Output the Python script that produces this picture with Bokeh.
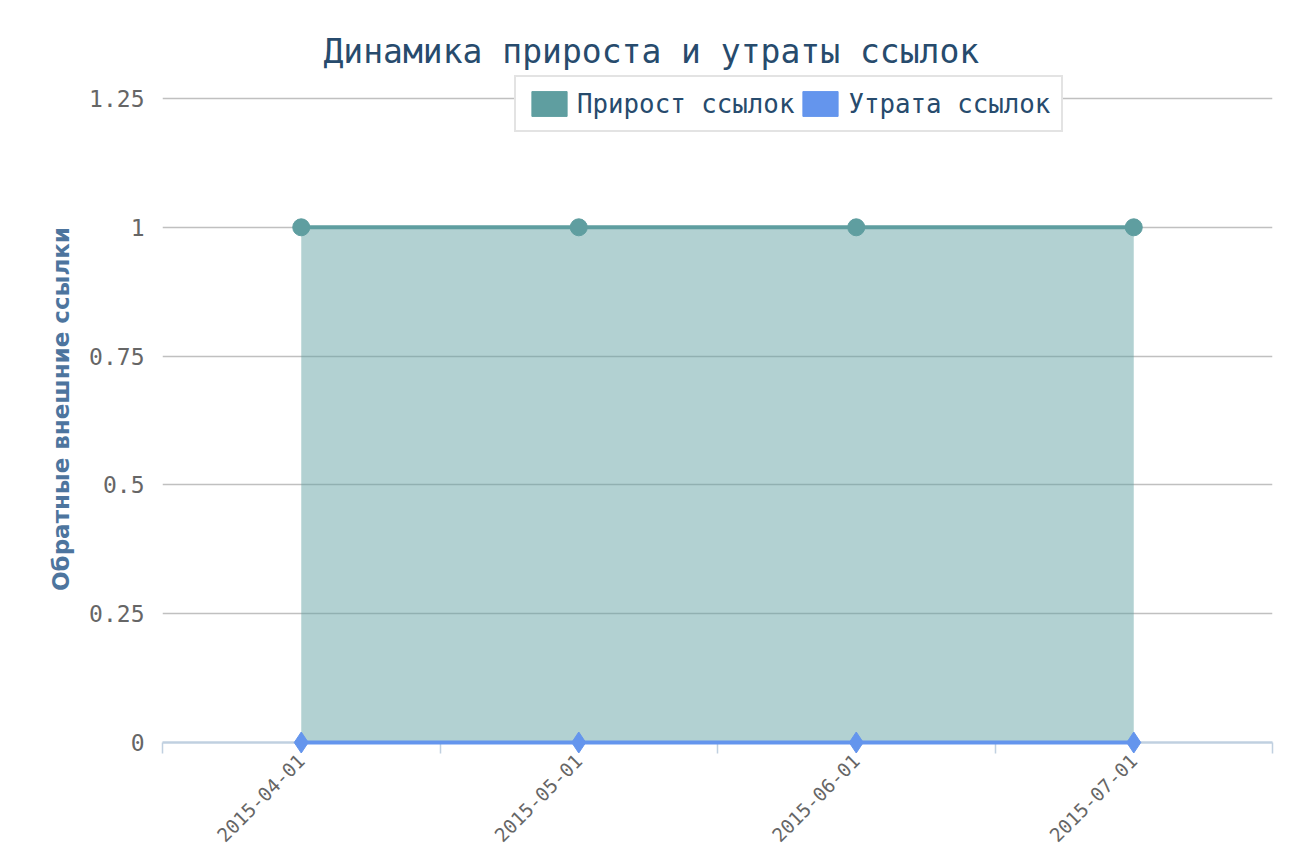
import math
from bokeh.plotting import figure
from bokeh.models import (ColumnDataSource, FixedTicker, NumeralTickFormatter, Range1d,
                          Legend, LegendItem)
from bokeh.embed import file_html
from bokeh.resources import INLINE

# ---- data ----
title_text = "Динамика прироста и утраты ссылок"
y_title = "Обратные внешние ссылки"
categories = ["2015-04-01", "2015-05-01", "2015-06-01", "2015-07-01"]
gain = [1, 1, 1, 1]
loss = [0, 0, 0, 0]
series_names = ["Прирост ссылок", "Утрата ссылок"]
series_colors = ["#5f9ea0", "#6495ed"]
y_ticks = [0, 0.25, 0.5, 0.75, 1, 1.25]

n = len(categories)
xs = [i + 0.5 for i in range(n)]
src = ColumnDataSource(dict(x=xs, gain=gain, loss=loss, base=[0] * n))

MONO = "DejaVu Sans Mono"

# plot area: grid of 0..1.25 spans 644px; keep some headroom above for the legend
plot_h = 644
head = 23
y_top = max(y_ticks) + head * max(y_ticks) / plot_h

p = figure(width=1288, height=852, output_backend="svg", toolbar_location=None,
           x_range=Range1d(0, n), y_range=Range1d(0, y_top),
           min_border_left=162, min_border_right=16, min_border_top=98 - head,
           min_border_bottom=110)
p.outline_line_color = None
p.background_fill_color = "white"
p.border_fill_color = "white"

# title
p.title.text = title_text
p.title.text_font = MONO
p.title.text_font_size = "33px"
p.title.text_font_style = "normal"
p.title.text_color = "#274b6d"
p.title.align = "left"
p.title.offset = 161
p.title.standoff = 9

# y axis
yt = FixedTicker(ticks=y_ticks)
p.yaxis.ticker = yt
p.ygrid.ticker = yt
p.yaxis.formatter = NumeralTickFormatter(format="0.[00]")
p.yaxis.axis_line_color = None
p.yaxis.major_tick_line_color = None
p.yaxis.minor_tick_line_color = None
p.yaxis.major_label_text_font = MONO
p.yaxis.major_label_text_font_size = "23px"
p.yaxis.major_label_text_color = "#666666"
p.yaxis.major_label_standoff = 12
p.yaxis.axis_label = y_title
p.yaxis.axis_label_text_font = "DejaVu Sans"
p.yaxis.axis_label_text_font_style = "bold"
p.yaxis.axis_label_text_font_size = "23px"
p.yaxis.axis_label_text_color = "#4d759e"
p.yaxis.axis_label_standoff = 12
p.ygrid.grid_line_color = "#c0c0c0"
p.ygrid.grid_line_width = 1.5
p.xgrid.visible = False

# x axis (labels centred on categories, tick marks between)
xt = FixedTicker(ticks=xs, minor_ticks=list(range(n + 1)))
p.xaxis.ticker = xt
p.xaxis.major_label_overrides = {x: c for x, c in zip(xs, categories)}
p.xaxis.major_tick_out = 0
p.xaxis.major_tick_in = 0
p.xaxis.minor_tick_out = 11
p.xaxis.minor_tick_in = 0
p.xaxis.minor_tick_line_color = "#c0d0e0"
p.xaxis.minor_tick_line_width = 1.5
p.xaxis.axis_line_color = "#c0d0e0"
p.xaxis.axis_line_width = 2.5
p.xaxis.major_label_text_font = MONO
p.xaxis.major_label_text_font_size = "19px"
p.xaxis.major_label_text_color = "#666666"
p.xaxis.major_label_orientation = math.pi / 4
p.xaxis.major_label_standoff = 4

# series
p.varea(x="x", y1="base", y2="gain", source=src, fill_color=series_colors[0], fill_alpha=0.48)
p.line(x="x", y="gain", source=src, line_color=series_colors[0], line_width=4)
p.scatter(x="x", y="gain", source=src, marker="circle", size=17,
          fill_color=series_colors[0], line_color=series_colors[0])
p.line(x="x", y="loss", source=src, line_color=series_colors[1], line_width=4, level="overlay")
p.scatter(x="x", y="loss", source=src, marker="diamond", size=21,
          fill_color=series_colors[1], line_color=series_colors[1], level="overlay")

# legend swatches (renderers with no visible data, only used for the legend)
nan = float("nan")
sw_src = ColumnDataSource(dict(l=[nan], r=[nan], t=[nan], b=[nan]))
sw1 = p.quad(left="l", right="r", top="t", bottom="b", source=sw_src,
             fill_color=series_colors[0], line_color=series_colors[0])
sw2 = p.quad(left="l", right="r", top="t", bottom="b", source=sw_src,
             fill_color=series_colors[1], line_color=series_colors[1])
legend = Legend(items=[LegendItem(label=series_names[0], renderers=[sw1]),
                       LegendItem(label=series_names[1], renderers=[sw2])],
                orientation="horizontal", location=(352, 610),
                label_text_font=MONO, label_text_font_size="25.8px",
                label_text_color="#274b6d", glyph_width=44, glyph_height=31,
                label_standoff=6, spacing=4, padding=11, margin=0,
                border_line_color="#c8c8c8", border_line_width=2,
                background_fill_color="white", background_fill_alpha=1.0)
p.add_layout(legend, "center")

open("out.html", "w").write(file_html(p, INLINE))
